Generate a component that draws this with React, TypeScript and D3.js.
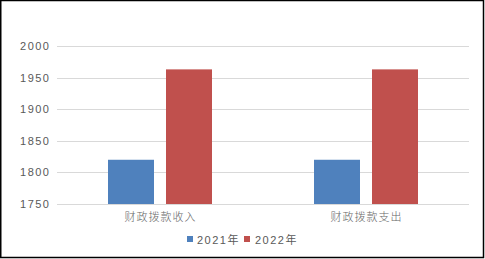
import React from "react";
import * as d3 from "d3";

const categories = ["财政拨款收入", "财政拨款支出"];
const seriesNames = ["2021年", "2022年"];
const values2021 = [1820, 1820];
const values2022 = [1963, 1963];
const yTicks = [1750, 1800, 1850, 1900, 1950, 2000];
const colors = ["#4F81BD", "#C0504D"];

export default function App() {
  const W = 485, H = 259;
  const left = 57, right = 469, top = 46, bottom = 204;
  const y = d3.scaleLinear().domain([1750, 2000]).range([bottom, top]);
  const x0 = d3.scaleBand().domain(categories).range([left, right]);
  const x1 = d3.scaleBand().domain(seriesNames).range([0, 104]).paddingInner(12 / 58);
  const series = [values2021, values2022];
  const font = "'Liberation Sans', 'Noto Sans CJK SC', sans-serif";
  const legendItems = [
    { name: seriesNames[0], sx: 187, tx: 197 },
    { name: seriesNames[1], sx: 244, tx: 255 },
  ];
  return (
    <svg width={W} height={H} style={{ position: "absolute", left: 0, top: 0 }} fontFamily={font}>
      <rect x={0} y={0} width={W} height={H} fill="#fff" />
      <rect x={0.75} y={0.5} width={482.75} height={257} fill="none" stroke="#000" strokeWidth={1.5} />
      {yTicks.map((t) => (
        <g key={t}>
          <line x1={left} x2={right} y1={Math.round(y(t)) + 0.5} y2={Math.round(y(t)) + 0.5} stroke="#D9D9D9" strokeWidth={1} />
          <text x={50.5} y={y(t) + 4} textAnchor="end" fontSize={11} fill="#595959" letterSpacing={1.5}>{t}</text>
        </g>
      ))}
      {categories.map((c, i) => {
        const cx = (x0(c) as number) + x0.bandwidth() / 2;
        return (
          <g key={c}>
            {series.map((vals, s) => (
              <rect
                key={s}
                x={cx - 52 + (x1(seriesNames[s]) as number)}
                y={y(vals[i])}
                width={x1.bandwidth()}
                height={bottom - y(vals[i])}
                fill={colors[s]}
              />
            ))}
            <text x={cx + 0.5} y={221} textAnchor="middle" fontSize={11} fill="#666" fontWeight={300} letterSpacing={1}>{c}</text>
          </g>
        );
      })}
      {legendItems.map((l, i) => (
        <g key={l.name}>
          <rect x={l.sx} y={236} width={6} height={6} fill={colors[i]} />
          <text x={l.tx} y={244} fontSize={11} fill="#595959" letterSpacing={1.5}>{l.name}</text>
        </g>
      ))}
    </svg>
  );
}
